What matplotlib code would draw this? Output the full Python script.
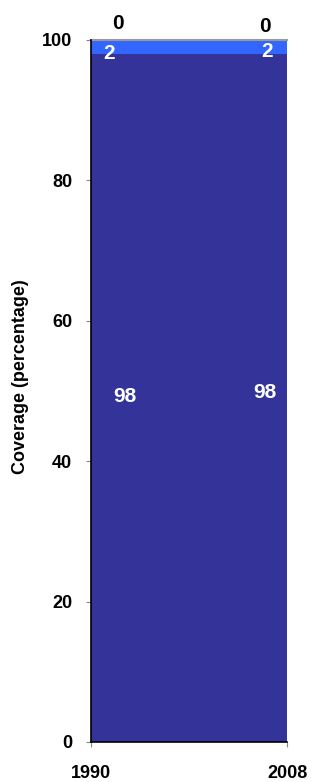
import matplotlib
matplotlib.use("Agg")
import matplotlib.pyplot as plt
import numpy as np

plt.rcParams['font.family'] = ['Liberation Sans', 'DejaVu Sans']
plt.rcParams['font.weight'] = 'bold'

years = [1990, 2008]
piped = [98, 98]
other = [2, 2]
unimproved = [0, 0]

colors = ['#333399', '#3366ff', '#999999']

fig = plt.figure(figsize=(3.12, 7.82), dpi=100)
ax = fig.add_axes([91/312, 40/782, 196/312, 702/782])

ax.stackplot(years, piped, other, unimproved, colors=colors)
top = np.array(piped) + np.array(other) + np.array(unimproved)
ax.plot(years, top, color='#999999', lw=1.5, clip_on=False)

ax.set_xlim(years[0], years[-1])
ax.set_ylim(0, 100)
ax.set_xticks(years)
ax.set_yticks(range(0, 101, 20))
ax.tick_params(axis='both', labelsize=13, color='#888888', length=3.6)
ax.tick_params(axis='x', pad=13)
ax.tick_params(axis='y', pad=10)
for lbl in ax.get_xticklabels() + ax.get_yticklabels():
    lbl.set_fontweight('bold')
ax.spines['top'].set_visible(False)
ax.spines['right'].set_visible(False)
ax.spines['left'].set_linewidth(1.2)
ax.spines['bottom'].set_linewidth(1.2)
ax.set_ylabel('Coverage (percentage)', fontsize=13, fontweight='bold')
ax.yaxis.set_label_coords(-62/196, 0.52)

# data labels
lab = dict(fontsize=15, fontweight='bold', ha='center', va='center', clip_on=False)
ax.text(1993.1, 49.2, str(piped[0]), color='white', **lab)
ax.text(2006.0, 49.8, str(piped[1]), color='white', **lab)
ax.text(1991.7, 98.1, str(other[0]), color='white', **lab)
ax.text(2006.2, 98.3, str(other[1]), color='white', **lab)
ax.text(1992.5, 102.4, str(unimproved[0]), color='black', **lab)
ax.text(2006.0, 101.9, str(unimproved[1]), color='black', **lab)

fig.savefig('out.png', dpi=100)
